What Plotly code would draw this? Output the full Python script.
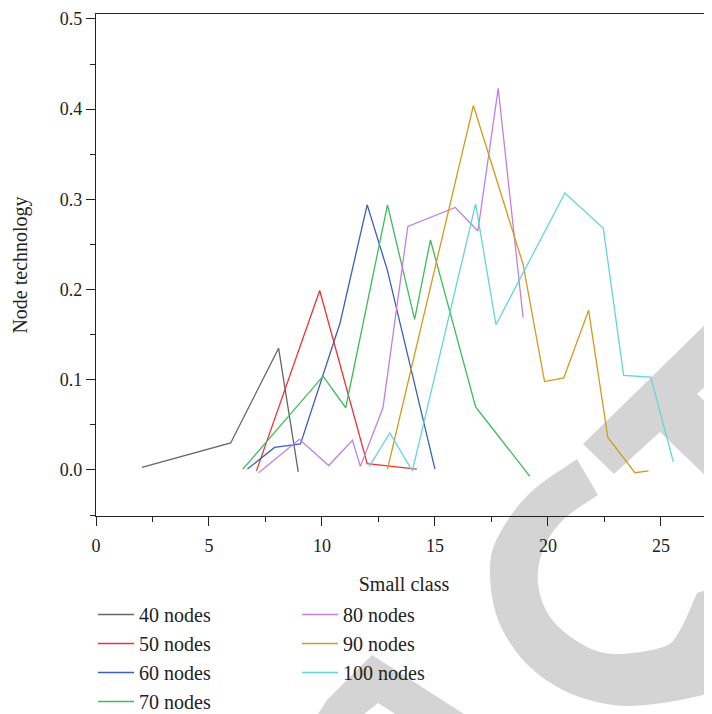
import plotly.graph_objects as go

# ---------------- data ----------------
series_names = ["40 nodes", "50 nodes", "60 nodes", "70 nodes", "80 nodes", "90 nodes", "100 nodes"]

x40 = [2.03, 5.96, 8.08, 8.95]
y40 = [0.003, 0.030, 0.135, -0.002]

x50 = [7.1, 9.9, 12.0, 14.2]
y50 = [-0.001, 0.199, 0.007, 0.001]

x60 = [6.7, 7.9, 9.05, 10.8, 12.0, 12.9, 15.0]
y60 = [0.001, 0.025, 0.029, 0.163, 0.294, 0.221, 0.001]

x70 = [6.5, 10.05, 11.05, 12.9, 14.1, 14.8, 16.8, 19.2]
y70 = [0.001, 0.104, 0.069, 0.294, 0.167, 0.255, 0.070, -0.007]

x80 = [7.2, 9.0, 10.3, 11.35, 11.7, 12.7, 13.8, 15.9, 16.9, 17.8, 18.9]
y80 = [-0.003, 0.034, 0.005, 0.033, 0.004, 0.069, 0.270, 0.291, 0.265, 0.423, 0.169]

x90 = [12.9, 16.7, 18.9, 19.85, 20.7, 21.8, 22.65, 23.85, 24.45]
y90 = [0.001, 0.404, 0.228, 0.098, 0.102, 0.177, 0.036, -0.003, -0.001]

x100 = [12.1, 13.0, 14.0, 16.8, 17.7, 20.75, 22.45, 23.35, 24.55, 25.55]
y100 = [0.004, 0.041, -0.001, 0.295, 0.161, 0.307, 0.268, 0.105, 0.103, 0.009]

x_tick_vals = [0, 5, 10, 15, 20, 25]
y_tick_vals = [0.0, 0.1, 0.2, 0.3, 0.4, 0.5]

colors = ["#666666", "#f23232", "#3d5fbf", "#3cbc5a", "#c080e0", "#d39a1c", "#64d5d8"]

# ---------------- figure ----------------
OFF = 8  # page body margin in the browser
W, H = 712 - OFF, 714 - OFF
L, R, T, B = 96 - OFF, 0, 14 - OFF, 198
PW, PH = W - L - R, H - T - B

def px(x, y):
    """reference-picture pixel -> paper coords"""
    return (x - OFF - L) / PW, (H - B - (y - OFF)) / PH

def fmt(p):
    a, b = px(*p)
    return f"{a:.4f},{b:.4f}"

def path_from(points):
    return "M " + " L ".join(fmt(p) for p in points) + " Z"

def smooth_segs(pts):
    """Catmull-Rom through pts -> list of cubic 'C' commands (starting at pts[0])"""
    out = []
    n = len(pts)
    for i in range(n - 1):
        p0 = pts[i - 1] if i > 0 else pts[i]
        p1, p2 = pts[i], pts[i + 1]
        p3 = pts[i + 2] if i + 2 < n else pts[i + 1]
        c1 = (p1[0] + (p2[0] - p0[0]) / 6, p1[1] + (p2[1] - p0[1]) / 6)
        c2 = (p2[0] - (p3[0] - p1[0]) / 6, p2[1] - (p3[1] - p1[1]) / 6)
        out.append(f"C {fmt(c1)} {fmt(c2)} {fmt(p2)}")
    return out

# watermark (decorative, light grey)
wm = "#d4d4d4"
T_shape = [(712, 318), (583, 444), (614, 474), (660, 432), (712, 482), (712, 408), (697, 394), (712, 380)]
C_outer = [(577, 459), (530, 493), (500, 533), (490, 567), (497, 617), (523, 660), (563, 690),
           (613, 705), (663, 703), (712, 693)]
C_inner = [(697, 593), (680, 630), (663, 647), (613, 654), (580, 643), (550, 617), (538, 583),
           (543, 550), (563, 520), (598, 495)]
C_path = ("M " + fmt(C_outer[0]) + " " + " ".join(smooth_segs(C_outer))
          + " L " + fmt((712, 588)) + " L " + fmt(C_inner[0]) + " "
          + " ".join(smooth_segs(C_inner)) + " Z")
A_shape = [(318, 714), (327, 700), (372, 655), (464, 714)]
A_notch = [(363, 715), (378, 703), (397, 715)]

shapes = [
    dict(type="path", xref="paper", yref="paper", path=path_from(T_shape), fillcolor=wm, line=dict(width=0), layer="below"),
    dict(type="path", xref="paper", yref="paper", path=C_path, fillcolor=wm, line=dict(width=0), layer="below"),
    dict(type="path", xref="paper", yref="paper", path=path_from(A_shape), fillcolor=wm, line=dict(width=0), layer="below"),
    dict(type="path", xref="paper", yref="paper", path=path_from(A_notch), fillcolor="white", line=dict(width=0), layer="below"),
]

xs = [x40, x50, x60, x70, x80, x90, x100]
ys = [y40, y50, y60, y70, y80, y90, y100]

fig = go.Figure()
for i, (name, xx, yy, c) in enumerate(zip(series_names, xs, ys, colors)):
    fig.add_trace(go.Scatter(
        x=xx, y=yy, mode="lines", name=name,
        line=dict(color=c, width=1.3),
        legend="legend" if i < 4 else "legend2",
    ))

font_family = "Liberation Serif, DejaVu Serif, serif"
axis_common = dict(
    showline=True, linecolor="#222222", linewidth=1.3,
    ticks="outside", tickcolor="#222222", tickwidth=1.2, ticklen=9,
    showgrid=False, zeroline=False, ticklabeloverflow="allow",
    tickfont=dict(family=font_family, size=18, color="#222222"),
)

legend_common = dict(
    xanchor="left", yanchor="top",
    bgcolor="rgba(0,0,0,0)", borderwidth=0,
    font=dict(family=font_family, size=20, color="#222222"),
    itemwidth=36, tracegroupgap=0, orientation="v",
)

fig.update_layout(
    width=W, height=H,
    margin=dict(l=L, r=R, t=T, b=B, autoexpand=False),
    paper_bgcolor="white",
    plot_bgcolor="rgba(0,0,0,0)",
    font=dict(family=font_family, size=18, color="#222222"),
    shapes=shapes,
    xaxis=dict(
        range=[0, 27.26], tickvals=x_tick_vals, mirror=True, ticklabelstandoff=4,
        minor=dict(dtick=2.5, tick0=0, ticks="outside", ticklen=5, tickcolor="#222222", tickwidth=1.2),
        title=dict(text="Small class", font=dict(family=font_family, size=20), standoff=22),
        automargin=False,
        **axis_common,
    ),
    yaxis=dict(
        range=[-0.051, 0.5055], tickvals=y_tick_vals, tickformat=".1f",
        minor=dict(dtick=0.05, tick0=0, ticks="outside", ticklen=5, tickcolor="#222222", tickwidth=1.2),
        title=dict(text="Node technology", font=dict(family=font_family, size=20), standoff=26),
        automargin=False,
        **axis_common,
    ),
    legend=dict(x=px(93, 0)[0], y=px(0, 595)[1], **legend_common),
    legend2=dict(x=px(297, 0)[0], y=px(0, 595)[1], **legend_common),
)

fig.write_html("out.html")
